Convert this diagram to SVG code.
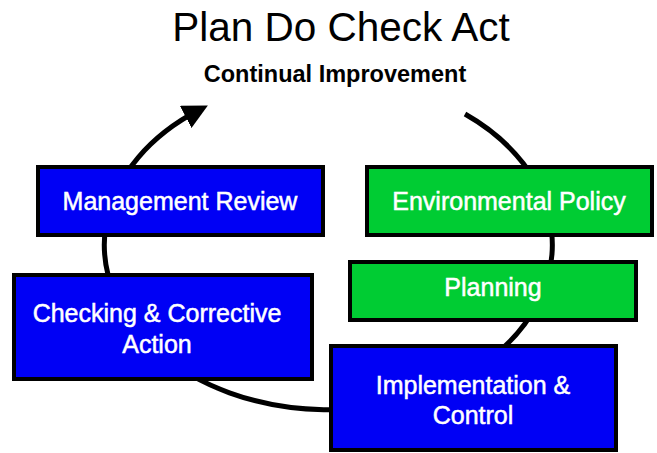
<svg xmlns="http://www.w3.org/2000/svg" width="657" height="453" viewBox="0 0 657 453">
  <style>
    .title { font-family: "Liberation Sans", Arial, sans-serif; fill: #000; }
    .box { stroke: #000; stroke-width: 4; }
    .blue { fill: #0000f5; }
    .green { fill: #00cc33; }
    .label { font-family: "Liberation Sans", Arial, sans-serif; font-size: 25px; fill: #fff; stroke: #fff; stroke-width: 0.5; text-anchor: middle; }
    .cycle { fill: none; stroke: #000; stroke-width: 5; }
  </style>
  <defs>
    <marker id="arrow" viewBox="0 0 10 10" refX="6" refY="5" markerWidth="5" markerHeight="5" orient="auto" markerUnits="strokeWidth">
      <path d="M0,0 L10,5 L0,10 z" fill="#000"/>
    </marker>
  </defs>

  <text class="title" x="341" y="41" font-size="40.5" text-anchor="middle">Plan Do Check Act</text>
  <text class="title" x="335" y="82" font-size="23.5" font-weight="bold" text-anchor="middle">Continual Improvement</text>

  <!-- the improvement cycle, drawn clockwise behind the steps -->
  <g id="connectors">
    <path class="cycle" d="M465,114 A224,165 0 1 1 199,110" marker-end="url(#arrow)"/>
  </g>

  <g id="management-review">
    <rect class="box blue" x="38" y="167" width="285" height="68"/>
    <text class="label" x="180" y="210">Management Review</text>
  </g>
  <g id="environmental-policy">
    <rect class="box green" x="367" y="167" width="285" height="68"/>
    <text class="label" x="509" y="210">Environmental Policy</text>
  </g>
  <g id="planning">
    <rect class="box green" x="350" y="262" width="286" height="58"/>
    <text class="label" x="493" y="296">Planning</text>
  </g>
  <g id="checking">
    <rect class="box blue" x="14" y="275" width="298" height="104"/>
    <text class="label" x="157" y="322">Checking &amp; Corrective</text>
    <text class="label" x="157" y="353">Action</text>
  </g>
  <g id="implementation">
    <rect class="box blue" x="331" y="346" width="285" height="104"/>
    <text class="label" x="473" y="394">Implementation &amp;</text>
    <text class="label" x="473" y="424">Control</text>
  </g>
</svg>
